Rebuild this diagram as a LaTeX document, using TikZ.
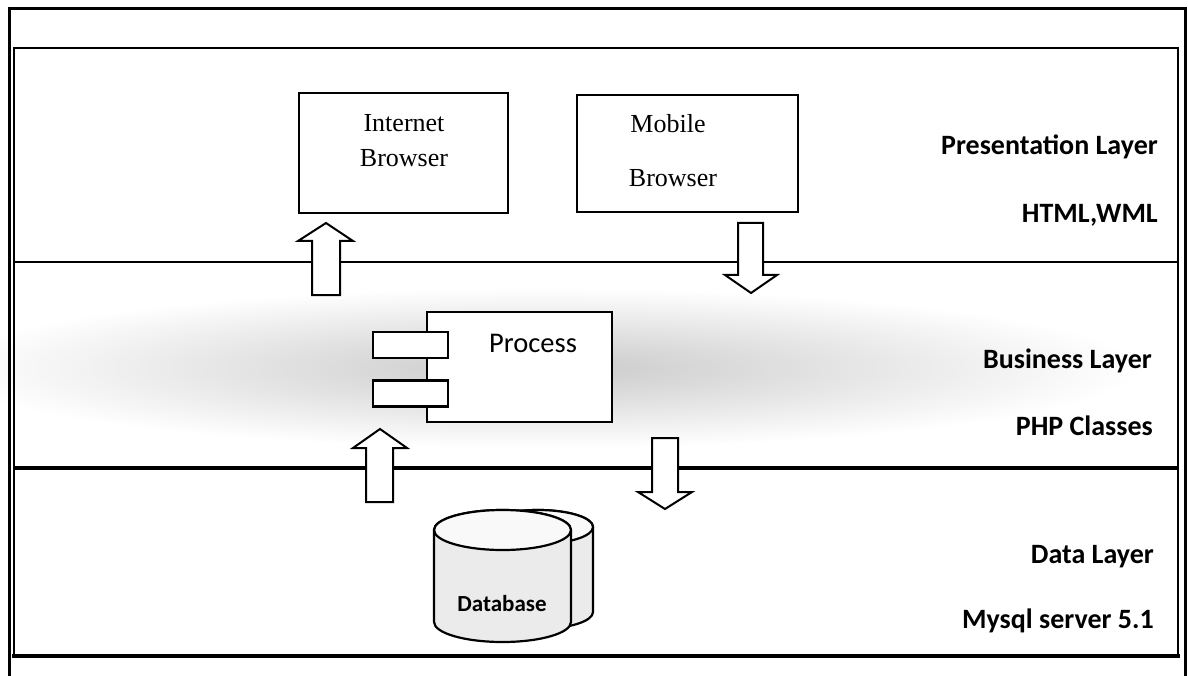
\documentclass[tikz,border=0pt]{standalone}
\usepackage{fontspec}
\setmainfont{Liberation Serif}
\newfontfamily\calibfont{Carlito}
\begin{document}
\begin{tikzpicture}[x=1pt,y=-1pt,
  box/.style={draw, line width=2, fill=white, inner sep=0},
  tabbox/.style={draw, line width=2.6, fill=white, inner sep=0, minimum width=75, minimum height=26},
  serifl/.style={inner sep=0, font=\fontsize{26}{30}\selectfont},
  layerl/.style={inner sep=0, anchor=base east, font=\calibfont\bfseries\fontsize{28}{32}\selectfont},
  blockarrow/.style={draw, line width=2, fill=white, line join=miter},
  cyl/.style={draw, line width=2.2, fill=gray!16},
  frameline/.style={line width=3}]
\useasboundingbox (0,0) rectangle (1188,676);
\fill[white] (0,0) rectangle (1188,676);
% stippled business-layer band
\shade[inner color=gray!42, outer color=white] (540,368) ellipse [x radius=600, y radius=80];
% outer frame (open at the bottom edge of the picture)
\draw[frameline] (9,680) -- (9,9) -- (1185,9) -- (1185,680);
% inner frame and layer dividers
\draw[line width=2] (14,656) -- (14,48) -- (1178,48) -- (1178,656);
\draw[line width=4] (12,656) -- (1180,656);
\draw[line width=2] (14,262) -- (1178,262);
\draw[line width=4] (14,468) -- (1178,468);
% presentation layer boxes
\node[box, minimum width=209, minimum height=120] (ib) at (403.5,153) {};
\node[serifl] (ibt1) at (404,123) {Internet};
\node[serifl] (ibt2) at (404,158) {Browser};
\node[box, minimum width=221, minimum height=117] (mb) at (687.5,153.5) {};
\node[serifl] (mbt1) at (668,124) {Mobile};
\node[serifl] (mbt2) at (673,178) {Browser};
% process component
\node[box, line width=2.4, minimum width=185, minimum height=110] (proc) at (519.5,367) {};
\node[inner sep=0, font=\calibfont\fontsize{28.5}{32}\selectfont] (proct) at (533,343) {Process};
\node[tabbox] (tab1) at (410.5,345) {};
\node[tabbox] (tab2) at (410.5,393.5) {};
% block arrows
\draw[blockarrow] (312,295) -- (312,241) -- (298,241) -- (326,223) -- (353,241) -- (340,241) -- (340,295) -- cycle;
\draw[blockarrow] (738,223) -- (738,275) -- (725,275) -- (751,293) -- (777,275) -- (763,275) -- (763,223) -- cycle;
\draw[blockarrow] (366,502) -- (366,448) -- (353,448) -- (380,429) -- (407,448) -- (393,448) -- (393,502) -- cycle;
\draw[blockarrow] (652,438) -- (652,492) -- (638,492) -- (665,509) -- (692,492) -- (678,492) -- (678,438) -- cycle;
% database cylinders
\path[cyl] (483,527) -- (483,612) arc[start angle=180, end angle=0, x radius=55, y radius=17]
  -- (593,527) arc[start angle=0, end angle=-180, x radius=55, y radius=17] -- cycle;
\draw[line width=2.2, fill=gray!5] (538,527) ellipse [x radius=55, y radius=17];
\path[cyl] (434,530) -- (434,622) arc[start angle=180, end angle=0, x radius=68.5, y radius=20]
  -- (571,530) arc[start angle=0, end angle=-180, x radius=68.5, y radius=20] -- cycle;
\draw[line width=2.2, fill=gray!5] (502.5,530) ellipse [x radius=68.5, y radius=20];
\node[inner sep=0, font=\calibfont\bfseries\fontsize{23}{26}\selectfont] (db) at (502,604) {Database};
% layer labels
\node[layerl] (pl) at (1158,155) {Presentation Layer};
\node[layerl] (pl2) at (1158,223) {HTML,WML};
\node[layerl] (bl) at (1152,368) {Business Layer};
\node[layerl] (bl2) at (1153,435) {PHP Classes};
\node[layerl] (dl) at (1154,563) {Data Layer};
\node[layerl] (dl2) at (1154,628) {Mysql server 5.1};
\end{tikzpicture}
\end{document}
